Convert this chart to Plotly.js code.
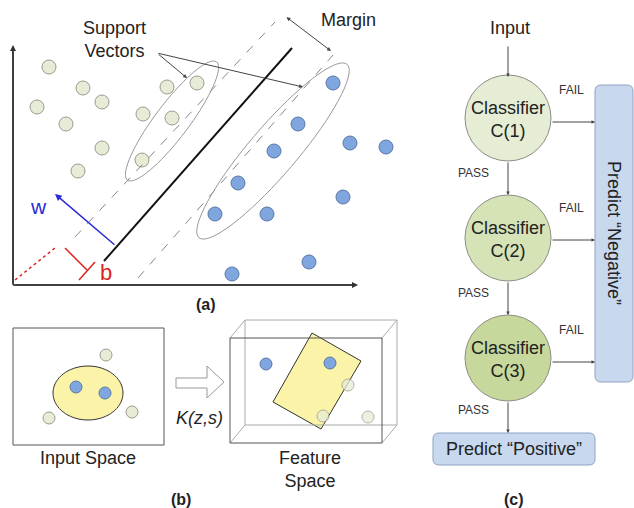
<!DOCTYPE html>
<html>
<head>
<meta charset="utf-8">
<script src="https://cdn.plot.ly/plotly-3.0.1.min.js"></script>
<style>html,body{margin:0;padding:0;background:#fff;}#chart{width:634px;height:508px;}</style>
</head>
<body>
<div id="chart"></div>
<script>
// ---- data (diagram coordinates, pixel-like units) ----
const svmNegX = [49, 83, 102, 37, 66, 102, 78, 143, 167, 197, 172, 142];
const svmNegY = [67, 88, 102, 107, 124, 148, 171, 114, 87, 83, 118, 160];
const svmPosX = [333, 298, 350, 386, 274, 238, 343, 215, 267, 309, 232];
const svmPosY = [83, 124, 143, 147, 151, 183, 197, 214, 214, 262, 274];

const inputPosX = [76, 105];
const inputPosY = [387, 393];
const inputNegX = [106, 49, 132];
const inputNegY = [355, 418, 412];

const featPosX = [266, 330];
const featPosY = [364, 363];
const featNegX = [348, 323, 368];
const featNegY = [385, 416, 417];

const classifierNames = ['C(1)', 'C(2)', 'C(3)'];
const classifierY = [118, 238, 358];
const classifierFill = ['#e5edd5', '#d5e3b6', '#c6d89c'];
const failY = [122, 240, 362];

// ---- helpers ----
function ellipsePath(cx, cy, a, b, deg) {
  const r = deg * Math.PI / 180; let s = '';
  for (let i = 0; i <= 72; i++) {
    const t = 2 * Math.PI * i / 72;
    const x = a * Math.cos(t), y = b * Math.sin(t);
    const px = cx + x * Math.cos(r) - y * Math.sin(r);
    const py = cy + x * Math.sin(r) + y * Math.cos(r);
    s += (i === 0 ? 'M ' : ' L ') + px.toFixed(2) + ',' + py.toFixed(2);
  }
  return s + ' Z';
}
function roundRect(x0, y0, x1, y1, r) {
  return `M ${x0+r},${y0} L ${x1-r},${y0} Q ${x1},${y0} ${x1},${y0+r} L ${x1},${y1-r} Q ${x1},${y1} ${x1-r},${y1} L ${x0+r},${y1} Q ${x0},${y1} ${x0},${y1-r} L ${x0},${y0+r} Q ${x0},${y0} ${x0+r},${y0} Z`;
}
function line(x0, y0, x1, y1, color, width, dash) {
  return {type: 'line', xref: 'x', yref: 'y', x0, y0, x1, y1, line: {color, width, dash: dash || 'solid'}};
}
function arrow(tx, ty, hx, hy, color, width, size, side) {
  return {xref: 'x', yref: 'y', axref: 'x', ayref: 'y', x: hx, y: hy, ax: tx, ay: ty, text: '',
    showarrow: true, arrowhead: 2, arrowsize: size || 1, arrowwidth: width || 1, arrowcolor: color || '#333',
    arrowside: side || 'end', standoff: 0, startstandoff: 0};
}
function label(x, y, text, size, color, extra) {
  return Object.assign({xref: 'x', yref: 'y', x, y, text, showarrow: false,
    font: {family: 'Liberation Sans, Arial, sans-serif', size: size, color: color || '#222'},
    xanchor: 'center', yanchor: 'middle'}, extra || {});
}

const FONT = 'Liberation Sans, Arial, sans-serif';
const negMarker = (sz, op) => ({size: sz, color: '#e6ecd6', opacity: op || 1, line: {color: '#9a9a90', width: 1}});
const posMarker = (sz) => ({size: sz, color: '#7fa6de', line: {color: '#5a76a6', width: 1}});

const traces = [
  {x: svmNegX, y: svmNegY, mode: 'markers', type: 'scatter', marker: negMarker(14), hoverinfo: 'skip'},
  {x: svmPosX, y: svmPosY, mode: 'markers', type: 'scatter', marker: posMarker(14), hoverinfo: 'skip'},
  {x: inputNegX, y: inputNegY, mode: 'markers', type: 'scatter', marker: negMarker(12), hoverinfo: 'skip'},
  {x: inputPosX, y: inputPosY, mode: 'markers', type: 'scatter', marker: posMarker(12), hoverinfo: 'skip'},
  {x: featNegX, y: featNegY, mode: 'markers', type: 'scatter', marker: negMarker(12, 0.75), hoverinfo: 'skip'},
  {x: featPosX, y: featPosY, mode: 'markers', type: 'scatter', marker: posMarker(12), hoverinfo: 'skip'}
];

const shapes = [
  // panel (a)
  line(13, 285, 13, 50, '#333', 1.5),
  line(13, 285, 352, 285, '#333', 1.5),
  line(75, 237, 275, 22, '#888', 1, 'dash'),
  line(138, 278, 333, 55, '#888', 1, 'dash'),
  line(104, 261, 292, 48, '#111', 2),
  {type: 'path', xref: 'x', yref: 'y', path: ellipsePath(172, 121, 74, 17, -53), line: {color: '#999', width: 1}},
  {type: 'path', xref: 'x', yref: 'y', path: ellipsePath(273, 151, 114, 24, -49.5), line: {color: '#999', width: 1}},
  line(15, 280, 55, 248, '#d22', 1.5, 'dot'),
  line(65, 248, 87, 270, '#d22', 1.5),
  line(79, 280, 95, 262, '#d22', 1.5),
  // panel (b)
  {type: 'rect', xref: 'x', yref: 'y', x0: 13, y0: 328, x1: 164, y1: 445, line: {color: '#555', width: 1}},
  {type: 'path', xref: 'x', yref: 'y', layer: 'below', path: ellipsePath(88, 393, 35, 27, 0), fillcolor: '#fbf4a8', line: {color: '#333', width: 1}},
  {type: 'path', xref: 'x', yref: 'y', path: 'M 176,378 L 207,378 L 207,366 L 224,382 L 207,398 L 207,388 L 176,388 Z', fillcolor: '#fff', line: {color: '#999', width: 1}},
  {type: 'rect', xref: 'x', yref: 'y', x0: 245, y0: 320, x1: 397, y1: 425, line: {color: '#aaa', width: 1}},
  line(230, 338, 245, 320, '#aaa', 1),
  line(382, 338, 397, 320, '#aaa', 1),
  line(382, 443, 397, 425, '#aaa', 1),
  line(230, 443, 245, 425, '#aaa', 1),
  {type: 'rect', xref: 'x', yref: 'y', x0: 230, y0: 338, x1: 382, y1: 443, line: {color: '#555', width: 1}},
  {type: 'path', xref: 'x', yref: 'y', layer: 'below', path: 'M 312,333 L 361,361 L 321,429 L 273,402 Z', fillcolor: '#fbf4a8', line: {color: '#333', width: 1}},
  // panel (c)
  {type: 'path', xref: 'x', yref: 'y', layer: 'below', path: roundRect(595, 85, 633, 382, 6), fillcolor: '#c7d8ef', line: {color: '#8fa3bf', width: 1}},
  {type: 'path', xref: 'x', yref: 'y', layer: 'below', path: roundRect(433, 433, 595, 465, 6), fillcolor: '#c7d8ef', line: {color: '#8fa3bf', width: 1}}
];
classifierY.forEach((cy, i) => {
  shapes.push({type: 'circle', xref: 'x', yref: 'y', layer: 'below', x0: 508 - 43, x1: 508 + 43, y0: cy - 43, y1: cy + 43,
    fillcolor: classifierFill[i], line: {color: '#8d8d85', width: 1}});
});

const annotations = [
  // panel (a)
  arrow(13, 285, 13, 45, '#333', 1.5, 0.8),
  arrow(13, 285, 358, 285, '#333', 1.5, 0.8),
  arrow(285, 16, 331, 51, '#444', 1, 0.8, 'end+start'),
  arrow(157, 53, 187, 78, '#444', 1, 0.8),
  arrow(157, 53, 303, 87, '#444', 1, 0.8),
  arrow(116, 246, 55, 194, '#2b2bd6', 1.5, 0.9),
  label(114, 39, 'Support<br>Vectors', 18, '#222'),
  label(348, 20, 'Margin', 18, '#222'),
  label(38, 206, 'w', 21, '#2b2bd6'),
  label(106, 272, 'b', 22, '#d22'),
  label(206, 304, '<b>(a)</b>', 16, '#222'),
  // panel (b)
  label(199, 418, '<i>K(z,s)</i>', 18, '#222'),
  label(88, 458, 'Input Space', 18, '#222'),
  label(310, 469, 'Feature<br>Space', 18, '#222'),
  label(181, 499, '<b>(b)</b>', 16, '#222'),
  // panel (c)
  label(510, 28, 'Input', 18, '#222'),
  arrow(508, 45, 508, 77, '#444', 1, 0.7),
  arrow(508, 161, 508, 195, '#444', 1, 0.7),
  arrow(508, 281, 508, 315, '#444', 1, 0.7),
  arrow(508, 401, 508, 433, '#444', 1, 0.7),
  label(473, 173, 'PASS', 12, '#333'),
  label(473, 293, 'PASS', 12, '#333'),
  label(473, 410, 'PASS', 12, '#333'),
  label(514, 449, 'Predict “Positive”', 18, '#222'),
  label(614, 233, 'Predict “Negative”', 18, '#222', {textangle: 90}),
  label(514, 499, '<b>(c)</b>', 16, '#222')
];
classifierY.forEach((cy, i) => {
  annotations.push(label(508, cy + 1, 'Classifier<br>' + classifierNames[i], 18, '#222'));
  annotations.push(arrow(551, failY[i], 595, failY[i], '#444', 1, 0.7));
  annotations.push(label(571, failY[i] - 32, 'FAIL', 12, '#333'));
});

const layout = {
  width: 634, height: 508,
  margin: {l: 0, r: 0, t: 0, b: 0},
  paper_bgcolor: '#fff', plot_bgcolor: '#fff',
  showlegend: false,
  font: {family: FONT},
  xaxis: {range: [0, 634], visible: false, fixedrange: true},
  yaxis: {range: [508, 0], visible: false, fixedrange: true},
  shapes, annotations
};
Plotly.newPlot('chart', traces, layout, {staticPlot: true, displayModeBar: false});
</script>
</body>
</html>
